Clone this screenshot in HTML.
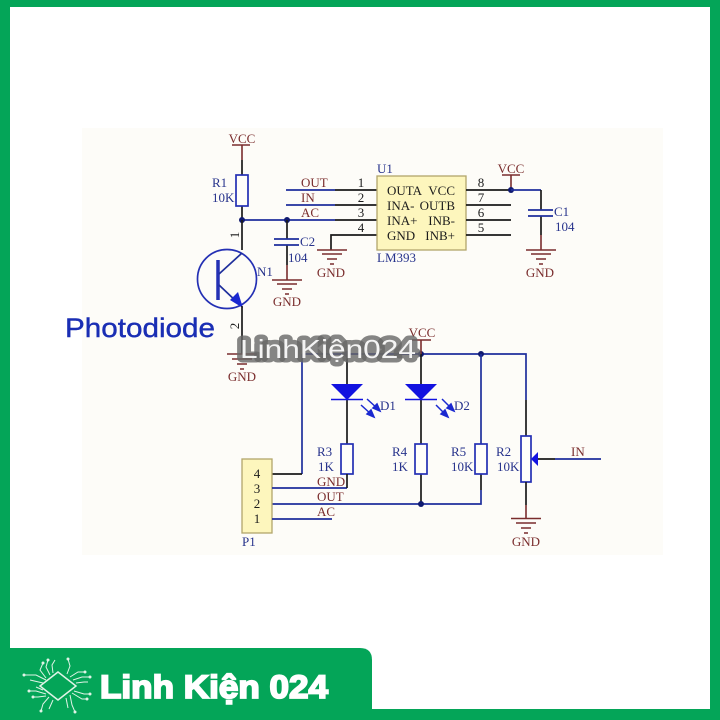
<!DOCTYPE html>
<html><head><meta charset="utf-8"><style>
html,body{margin:0;padding:0;background:#fff}svg{display:block}
text{font-family:"Liberation Serif","Noto Serif CJK SC",serif;font-size:13px}
.b{fill:#27338c}.r{fill:#7a2d2d}.k{fill:#1c1c1c}
.m{text-anchor:middle}
.w{stroke:#1f2f9c;stroke-width:1.700;fill:none}
.d{stroke:#1a1a1a;stroke-width:1.700;fill:none}
.g{stroke:#7a2d2d;stroke-width:1.600;fill:none}
.bx{stroke:#2430b4;stroke-width:1.700;fill:#fffefa}
.l{stroke:#dff3e6;stroke-width:1;fill:none}
.soft{filter:blur(.35px)}
</style></head><body>
<svg width="720" height="720" viewBox="0 0 720 720" xmlns="http://www.w3.org/2000/svg">
<rect width="720" height="720" fill="#04a558"/>
<rect x="10" y="7" width="700" height="702" fill="#fff"/>
<rect x="82" y="128" width="581" height="427" fill="#fdfcf8"/>
<g class="soft">
<!-- VCC / R1 -->
<text x="242" y="143" class="r m">VCC</text>
<path class="g" d="M232 145H250M242 145V160"/>
<path class="d" d="M242 160V175M242 206V220"/>
<rect x="236" y="175" width="12" height="31" class="bx"/>
<text x="212" y="187" class="b">R1</text>
<text x="212" y="202" class="b">10K</text>
<!-- junction row -->
<path class="w" d="M242 220H335"/><path class="d" d="M335 220H377"/>
<circle cx="242" cy="220" r="3" fill="#101a70"/><circle cx="287" cy="220" r="3" fill="#101a70"/>
<path class="d" d="M242 220V250"/>
<text transform="translate(239,235) rotate(-90)" class="k m">1</text>
<!-- C2 -->
<path class="d" d="M287 220V239M287 245V265"/><path class="g" d="M287 265V280"/>
<path class="w" d="M274 239H299M274 245H299"/>
<text x="300" y="246" class="b">C2</text>
<text x="288" y="262" class="b">104</text>
<path class="g" d="M272 280H302M277 284H297M282 289H292M285 294H289"/>
<text x="287" y="306" class="r m">GND</text>
<!-- Transistor -->
<circle cx="227" cy="279" r="29.500" fill="none" stroke="#2430b4" stroke-width="1.700"/>
<path d="M218 260V300" stroke="#2430b4" stroke-width="3.500"/>
<path class="w" d="M219 274L242 253M219 285L238 303"/>
<path d="M243 308L230 300L238 292Z" fill="#1a28d0"/>
<text x="257" y="276" class="b">N1</text>
<path class="d" d="M242 306V354"/>
<text transform="translate(239,326) rotate(-90)" class="k m">2</text>
<path class="g" d="M227 354H257M232 359H252M237 364H247M240 369H244"/>
<text x="242" y="381" class="r m">GND</text>
<text x="65" y="337" textLength="150" lengthAdjust="spacingAndGlyphs" style="font-family:'Liberation Sans',sans-serif;font-size:27px" fill="#1a2eb4" stroke="#1a2eb4" stroke-width=".4">Photodiode</text>

<!-- U1 left pins -->
<path class="w" d="M286 190H335M286 205H335"/>
<path class="d" d="M335 190H377M335 205H377M331 250V235H377"/>
<path class="g" d="M317 250H347M322 254H342M327 259H337M330 264H334"/>
<text x="301" y="187" class="r">OUT</text><text x="301" y="202" class="r">IN</text><text x="301" y="217" class="r">AC</text>
<text x="361" y="187" class="k m">1</text><text x="361" y="202" class="k m">2</text><text x="361" y="217" class="k m">3</text><text x="361" y="232" class="k m">4</text>
<text x="331" y="277" class="r m">GND</text>
<!-- U1 -->
<rect x="377" y="176" width="89" height="74" fill="#fdf6bd" stroke="#b3a56b" stroke-width="1.300"/>
<text x="377" y="173" class="b">U1</text>
<text x="377" y="262" class="b">LM393</text>
<text x="387" y="195" class="k">OUTA</text><text x="455" y="195" class="k" text-anchor="end">VCC</text>
<text x="387" y="210" class="k">INA-</text><text x="455" y="210" class="k" text-anchor="end">OUTB</text>
<text x="387" y="225" class="k">INA+</text><text x="455" y="225" class="k" text-anchor="end">INB-</text>
<text x="387" y="240" class="k">GND</text><text x="455" y="240" class="k" text-anchor="end">INB+</text>
<!-- U1 right -->
<path class="d" d="M466 190H511M466 205H511M466 220H511M466 235H511"/>
<text x="481" y="187" class="k m">8</text><text x="481" y="202" class="k m">7</text><text x="481" y="217" class="k m">6</text><text x="481" y="232" class="k m">5</text>
<text x="511" y="173" class="r m">VCC</text>
<path class="g" d="M502 175H520"/><path class="g" d="M511 175V190"/>
<circle cx="511" cy="190" r="3" fill="#101a70"/>
<path class="w" d="M511 190H541"/>
<path class="d" d="M541 190V210M541 216V235"/><path class="g" d="M541 235V250"/>
<path class="w" d="M528 210H553M528 216H553"/>
<text x="554" y="216" class="b">C1</text>
<text x="555" y="231" class="b">104</text>
<path class="g" d="M526 250H556M531 254H551M536 259H546M539 264H543"/>
<text x="540" y="277" class="r m">GND</text>

<!-- Lower net -->
<path class="w" d="M302 354H526V400"/><path class="d" d="M526 400V436"/>
<path class="w" d="M302 354V474"/><path class="d" d="M272 474H302"/>
<circle cx="347" cy="354" r="3" fill="#101a70"/><circle cx="421" cy="354" r="3" fill="#101a70"/><circle cx="481" cy="354" r="3" fill="#101a70"/>
<text x="422" y="337" class="r m">VCC</text>
<path class="g" d="M412 340H431M421 340V354"/>
<!-- D1 -->
<path class="d" d="M347 354V444"/>
<path d="M331 384H363L347 400Z" fill="#1212e0"/><path d="M331 399.500H363" stroke="#1212e0" stroke-width="1.500"/>
<g stroke="#1a28d0" stroke-width="1.500" fill="#1a28d0"><path d="M367 399L378 409"/><path d="M361 405L372 415"/><path d="M380 411L373 408L377 404Z"/><path d="M374 417L367 414L371 410Z"/></g>
<text x="380" y="410" class="b">D1</text>
<rect x="341" y="444" width="12" height="30" class="bx"/>
<text x="317" y="456" class="b">R3</text><text x="318" y="471" class="b">1K</text>
<!-- D2 -->
<path class="d" d="M421 354V444M421 474V504"/>
<path d="M405 384H437L421 400Z" fill="#1212e0"/><path d="M405 399.500H437" stroke="#1212e0" stroke-width="1.500"/>
<g stroke="#1a28d0" stroke-width="1.500" fill="#1a28d0"><path d="M442 399L452 409"/><path d="M436 405L446 415"/><path d="M454 411L447 408L451 404Z"/><path d="M448 417L441 414L445 410Z"/></g>
<text x="454" y="410" class="b">D2</text>
<rect x="415" y="444" width="12" height="30" class="bx"/>
<text x="392" y="456" class="b">R4</text><text x="392" y="471" class="b">1K</text>
<!-- R5 -->
<path class="w" d="M481 354V444"/><path class="d" d="M481 474V490"/><path class="w" d="M481 490V504H272"/>
<rect x="475" y="444" width="12" height="30" class="bx"/>
<text x="451" y="456" class="b">R5</text><text x="451" y="471" class="b">10K</text>
<circle cx="421" cy="504" r="3" fill="#101a70"/>
<!-- R2 -->
<rect x="521" y="436" width="10" height="46" class="bx"/>
<text x="496" y="456" class="b">R2</text><text x="497" y="471" class="b">10K</text>
<path d="M531 459L538 452V466Z" fill="#1212e0"/>
<path class="d" d="M538 459H555"/><path class="w" d="M555 459H601"/>
<text x="571" y="456" class="r">IN</text>
<path class="d" d="M526 482V505"/><path class="g" d="M526 505V518"/>
<path class="g" d="M511 518.500H541M516 523H536M521 528H531M524 533H528"/>
<text x="526" y="546" class="r m">GND</text>
<!-- P1 -->
<rect x="242" y="459" width="30" height="74" fill="#fdf6bd" stroke="#b3a56b" stroke-width="1.300"/>
<text x="257" y="478" class="k m">4</text><text x="257" y="493" class="k m">3</text><text x="257" y="508" class="k m">2</text><text x="257" y="523" class="k m">1</text>
<text x="242" y="546" class="b">P1</text>
<path class="w" d="M272 488H347"/><path class="d" d="M347 474V488"/>
<path class="w" d="M272 519H332"/>
<text x="317" y="486" class="r">GND</text><text x="317" y="501" class="r">OUT</text><text x="317" y="516" class="r">AC</text>
</g>

<!-- Watermark -->
<text x="240" y="358" textLength="176" lengthAdjust="spacingAndGlyphs" style="font-family:'Liberation Sans',sans-serif;font-size:26px;paint-order:stroke;stroke-linejoin:round" fill="#f4f4f4" stroke="#666" stroke-opacity=".8" stroke-width="9">LinhKiện024</text>

<!-- Banner -->
<path d="M0 648H360Q372 648 372 660V720H0Z" fill="#04a558"/>
<g class="l">
<path d="M58 672L76 686L58 700L40 686Z" stroke-width="1.500"/>
<path d="M46 678L40 670L43 663M50 675L46 667L48 660M53 673L52 665L55 660M67 674L70 666L68 659M70 677L78 672H85M73 680L82 677H90M76 683L84 682H88"/>
<path d="M46 680L36 675H24M43 683L30 680M70 695L72 705L75 712M66 698L68 708M74 691L84 694H90M72 693L82 699H87"/>
<path d="M46 694L36 691H29M43 690L36 687M49 697L43 704L41 711M53 700L49 709M46 696L38 697H33"/>
</g>
<g fill="#dff3e6"><circle cx="43" cy="663" r="1.500"/><circle cx="48" cy="660" r="1.500"/><circle cx="68" cy="659" r="1.500"/><circle cx="85" cy="672" r="1.500"/><circle cx="90" cy="677" r="1.500"/><circle cx="24" cy="675" r="1.500"/><circle cx="29" cy="691" r="1.500"/><circle cx="90" cy="694" r="1.500"/><circle cx="87" cy="699" r="1.500"/><circle cx="41" cy="711" r="1.500"/><circle cx="75" cy="712" r="1.500"/><circle cx="33" cy="697" r="1.500"/></g>
<text x="100" y="698" textLength="228" lengthAdjust="spacingAndGlyphs" style="font-family:'Liberation Sans',sans-serif;font-weight:700;font-size:32px" fill="#fff" stroke="#fff" stroke-width="1.800">Linh Kiện 024</text>
</svg>
</body></html>
